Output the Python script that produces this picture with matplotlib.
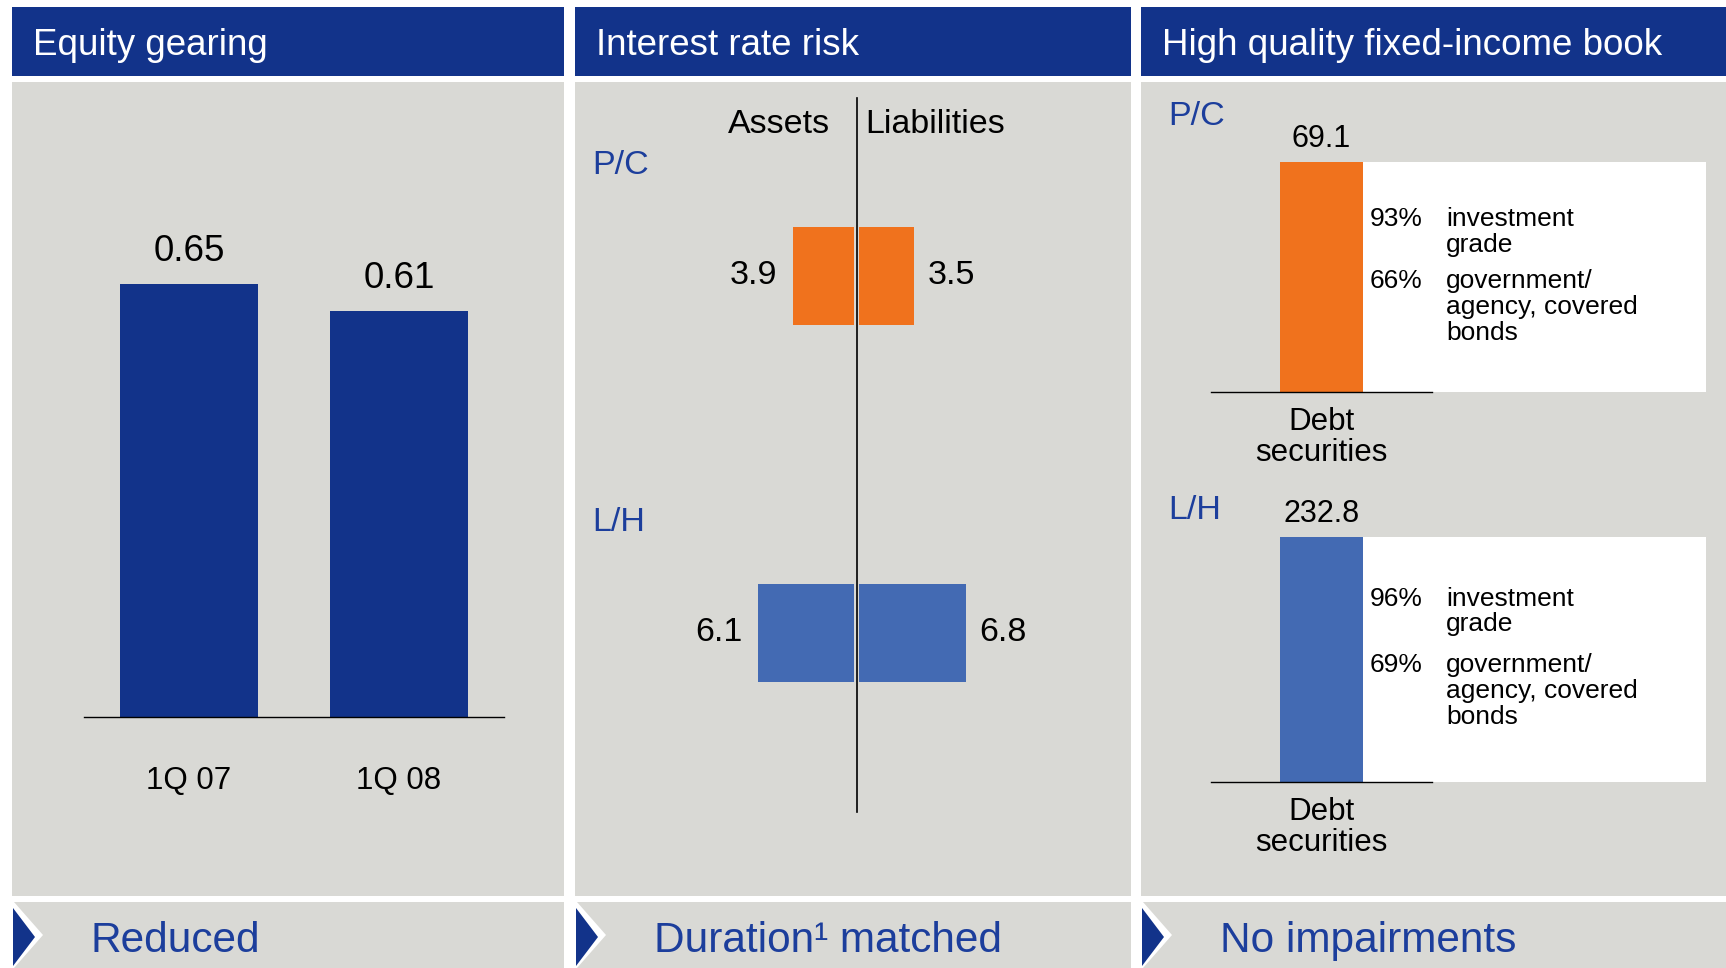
import matplotlib
matplotlib.use('Agg')
import matplotlib.pyplot as plt
from matplotlib.patches import Rectangle, Polygon
import matplotlib.transforms as mtransforms

# ---- data ----
panel_titles = ['Equity gearing', 'Interest rate risk', 'High quality fixed-income book']
panel_notes = ['Reduced', 'Duration\u00b9 matched', 'No impairments']

gearing_periods = ['1Q 07', '1Q 08']
gearing_values = [0.65, 0.61]

segments = ['P/C', 'L/H']
assets_duration = [3.9, 6.1]
liab_duration = [3.5, 6.8]

debt_securities = [69.1, 232.8]
invest_grade_pct = [93, 96]
gov_agency_pct = [66, 69]

NAVY = '#12338A'
GRAY = '#D9D9D5'
ORANGE = '#F0721D'
LBLUE = '#436AB3'
TXTBLUE = '#1C3E9C'
seg_colors = [ORANGE, LBLUE]

W, H = 1726, 968
plt.rcParams['font.family'] = ['Liberation Sans', 'DejaVu Sans']

fig = plt.figure(figsize=(W / 100, H / 100), dpi=100)
fig.patch.set_facecolor('white')


def add_ax(x0, y0, x1, y1):
    return fig.add_axes([x0 / W, 1 - y1 / H, (x1 - x0) / W, (y1 - y0) / H])


# background layer in pixel coords
bg = add_ax(0, 0, W, H)
bg.set_xlim(0, W)
bg.set_ylim(H, 0)
bg.axis('off')

panels = [(12, 564), (575, 1131), (1141, 1726)]
for i, (x0, x1) in enumerate(panels):
    bg.add_patch(Rectangle((x0, 7), x1 - x0, 69, color=NAVY, lw=0))
    bg.add_patch(Rectangle((x0, 82), x1 - x0, 814, color=GRAY, lw=0))
    bg.add_patch(Polygon([(x0 + 2, 902), (x1, 902), (x1, 968), (x0 + 2, 968), (x0 + 31, 935)],
                         closed=True, color=GRAY, lw=0))
    bg.add_patch(Polygon([(x0 + 1, 908), (x0 + 23, 937), (x0 + 1, 966)],
                         closed=True, color=NAVY, lw=0))
    bg.text(x0 + 21, 55, panel_titles[i], color='white', fontsize=26.5, va='baseline')
    bg.text(x0 + [78, 79, 79][i], 952, panel_notes[i], color=TXTBLUE, fontsize=30.5, va='baseline')

# ---- panel 1: equity gearing ----
ax1 = add_ax(84, 200, 504, 717)
ax1.patch.set_alpha(0)
x = range(len(gearing_values))
ax1.bar(x, gearing_values, width=0.657, color=NAVY)
ax1.set_xlim(-0.5, 1.5)
ax1.set_ylim(0, 517 / 666)
for i, v in enumerate(gearing_values):
    ax1.annotate(f'{v:.2f}', (i, v), xytext=(0, 16.5), textcoords='offset points',
                 ha='center', va='baseline', fontsize=26.5)
ax1.set_xticks(list(x))
ax1.set_xticklabels(gearing_periods, fontsize=22.5)
ax1.tick_params(axis='x', length=0, pad=35)
ax1.set_yticks([])
for s in ['top', 'left', 'right']:
    ax1.spines[s].set_visible(False)
ax1.spines['bottom'].set_linewidth(1.0)

# ---- panel 2: interest rate risk ----
ax2 = add_ax(576, 82, 1131, 895)
ax2.patch.set_alpha(0)
ax2.axis('off')
ppu = 15.7
ax2.set_xlim((576 - 856.5) / ppu, (1131 - 856.5) / ppu)
ax2.set_ylim((895 - 276) / 357, -(276 - 82) / 357)
gap = 0.16
trans2 = mtransforms.blended_transform_factory(ax2.transAxes, ax2.transData)
for i, seg in enumerate(segments):
    ax2.barh(i, -assets_duration[i], left=-gap, height=0.275, color=seg_colors[i])
    ax2.barh(i, liab_duration[i], left=gap, height=0.275, color=seg_colors[i])
    ax2.annotate(f'{assets_duration[i]:.1f}', (-gap - assets_duration[i], i), xytext=(-11, -6),
                 textcoords='offset points', ha='right', va='baseline', fontsize=24.5)
    ax2.annotate(f'{liab_duration[i]:.1f}', (gap + liab_duration[i], i), xytext=(10, -6),
                 textcoords='offset points', ha='left', va='baseline', fontsize=24.5)
    ax2.text(0.029, i - 0.287, seg, transform=trans2, color=TXTBLUE, fontsize=24.5, va='baseline')
ax2.plot([0, 0], [-0.499, 1.501], color='black', lw=1.2)
ax2.annotate('Assets', (0, -0.40), xytext=(-19, 0), textcoords='offset points',
             ha='right', va='baseline', fontsize=24.5)
ax2.annotate('Liabilities', (0, -0.40), xytext=(6, 0), textcoords='offset points',
             ha='left', va='baseline', fontsize=24.5)

# ---- panel 3: fixed-income book ----
boxes = [(162, 392), (537, 782)]
label_y = [125, 519]
for i, seg in enumerate(segments):
    top, bot = boxes[i]
    ax = add_ax(1211, top, 1432, bot)
    ax.patch.set_alpha(0)
    v = debt_securities[i]
    ax.bar([0], [v], width=0.376, color=seg_colors[i], zorder=2)
    ax.set_xlim(-0.5, 0.5)
    ax.set_ylim(0, v)
    ax.add_patch(Rectangle((0.188, 0), 1.74 - 0.188, v, color='white', lw=0,
                           clip_on=False, zorder=0.5))
    ax.annotate(f'{v:.1f}', (0, v), xytext=(0, 11), textcoords='offset points',
                ha='center', va='baseline', fontsize=22)
    trans = mtransforms.blended_transform_factory(ax.transData, ax.transAxes)
    rows = [(f'{invest_grade_pct[i]}%', 'investment\ngrade', 0.72),
            (f'{gov_agency_pct[i]}%', 'government/\nagency, covered\nbonds', 0.45)]
    for pct, desc, yf in rows:
        ax.annotate(pct, (0.219, yf), xycoords=trans, xytext=(0, 13.7), textcoords='offset points',
                    ha='left', va='top', fontsize=19)
        ax.annotate(desc, (0.563, yf), xycoords=trans, xytext=(0, 13.7), textcoords='offset points',
                    ha='left', va='top', fontsize=19, linespacing=1.1)
    ax.set_xticks([0])
    ax.set_xticklabels(['Debt\nsecurities'], fontsize=22.5, linespacing=1.08)
    ax.tick_params(axis='x', length=0, pad=10.5)
    ax.set_yticks([])
    for s in ['top', 'left', 'right']:
        ax.spines[s].set_visible(False)
    ax.spines['bottom'].set_linewidth(1.0)
    bg.text(1168, label_y[i], seg, color=TXTBLUE, fontsize=24.5, va='baseline')

fig.savefig('out.png', dpi=100, facecolor='white')
